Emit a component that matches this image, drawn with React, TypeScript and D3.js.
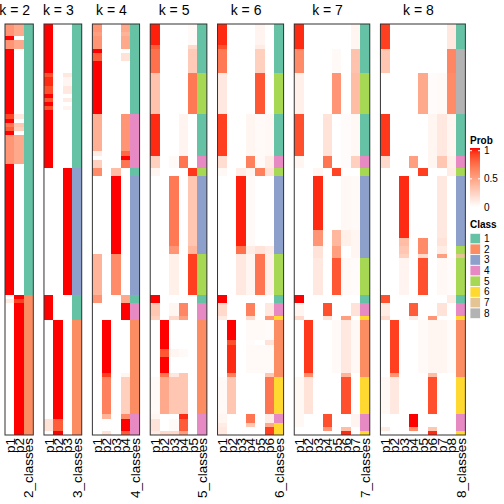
import React from "react";
import * as d3 from "d3";

// ---------- data ----------
const N_SAMPLES = 100;
const kValues = [2, 3, 4, 5, 6, 7, 8];
const classColors = ["#66C2A5", "#FC8D62", "#8DA0CB", "#E78AC3", "#A6D854", "#FFD92F", "#E5C494", "#B3B3B3"];
const classLabels = ["1", "2", "3", "4", "5", "6", "7", "8"];
const probTicks = [0, 0.5, 1];
const probTickLabels = ["0", "0.5", "1"];

// each segment: [number of samples, class, p1, p2, ...]
const k2Segments = [
  [3, 1, 0.55, 0.45], [1, 1, 1, 0], [2, 1, 0.55, 0.45], [16, 1, 1, 0], [1, 1, 0.88, 0.12],
  [1, 1, 1, 0], [1, 1, 0.7, 0.3], [1, 1, 0.8, 0.25], [1, 1, 1, 0], [7, 1, 0.55, 0.45],
  [32, 1, 1, 0], [1, 2, 0, 1], [1, 2, 0.1, 0.9], [32, 2, 0, 1],
];
const k3Segments = [
  [12, 1, 1, 0, 0], [1, 1, 0.85, 0, 0.12], [2, 1, 0.95, 0, 0.05], [2, 1, 0.85, 0, 0.12],
  [1, 1, 1, 0, 0], [1, 1, 0.85, 0, 0.1], [1, 1, 1, 0, 0], [1, 1, 0.85, 0, 0.06], [14, 1, 1, 0, 0],
  [31, 3, 0, 0, 1], [6, 1, 1, 0, 0], [24, 2, 0, 1, 0], [3, 2, 0.15, 0.8, 0], [1, 2, 0, 1, 0],
];
const k4Segments = [
  [2, 1, 0.55, 0, 0, 0.45], [1, 1, 0.5, 0, 0, 0.4], [3, 1, 0.55, 0, 0, 0.45], [1, 1, 1, 0, 0, 0],
  [2, 1, 0.8, 0, 0, 0.15], [13, 1, 1, 0, 0, 0], [9, 4, 0.42, 0, 0, 0.55], [1, 4, 0.1, 0, 0, 0.75],
  [1, 4, 0, 0, 0, 1], [2, 4, 0.25, 0, 0, 0.7], [2, 1, 0.6, 0, 0.35, 0], [19, 3, 0, 0, 1, 0],
  [10, 3, 0.4, 0, 0.6, 0], [2, 1, 0.55, 0, 0, 0.45], [4, 4, 0, 0, 0, 1], [13, 2, 0, 1, 0, 0],
  [1, 2, 0, 0.9, 0, 0.05], [9, 2, 0, 0.65, 0, 0.25], [1, 4, 0, 0.4, 0, 0.6], [3, 4, 0, 0, 0, 1],
  [1, 4, 0, 0.15, 0, 0.8],
];
const k5Segments = [
  [5, 1, 0.97, 0, 0, 0, 0.03], [1, 1, 0.8, 0, 0, 0, 0.2], [6, 1, 0.72, 0, 0, 0, 0.28],
  [10, 5, 0.32, 0, 0, 0, 0.68], [10, 1, 0.95, 0, 0, 0.06, 0], [3, 4, 0.25, 0, 0.03, 0.7, 0],
  [2, 5, 0.05, 0, 0, 0, 0.92], [17, 3, 0, 0, 0.68, 0, 0.3], [2, 3, 0, 0, 0.55, 0, 0.38],
  [10, 5, 0, 0, 0.08, 0, 0.9], [2, 1, 1, 0, 0, 0, 0], [3, 4, 0.3, 0, 0.05, 0.62, 0],
  [1, 4, 0.25, 0, 0.2, 0.5, 0], [7, 2, 0, 1, 0, 0, 0], [2, 2, 0, 0.82, 0.05, 0.03, 0],
  [4, 2, 0, 1, 0, 0, 0], [1, 2, 0, 0.7, 0.12, 0.3, 0], [9, 2, 0.03, 0.45, 0.3, 0.3, 0],
  [1, 4, 0.05, 0, 0, 0.95, 0], [3, 4, 0.15, 0, 0.03, 0.8, 0], [1, 4, 0.1, 0.2, 0.2, 0.5, 0],
];
const k6Segments = [
  [5, 1, 0.95, 0, 0, 0, 0.06, 0], [1, 1, 0.85, 0, 0, 0, 0.1, 0], [6, 1, 0.68, 0, 0, 0, 0.25, 0],
  [10, 5, 0.12, 0, 0, 0, 0.82, 0], [10, 1, 0.9, 0, 0, 0.05, 0.03, 0.04], [3, 4, 0.18, 0, 0, 0.65, 0.03, 0.1],
  [2, 5, 0.04, 0, 0.1, 0.05, 0.65, 0.15], [17, 3, 0, 0, 0.97, 0.03, 0, 0], [2, 3, 0, 0, 0.72, 0.1, 0.15, 0.1],
  [10, 5, 0, 0, 0.12, 0.05, 0.7, 0.08], [2, 1, 1, 0, 0, 0, 0, 0], [3, 4, 0.2, 0, 0, 0.65, 0, 0.12],
  [1, 6, 0.1, 0, 0, 0.2, 0, 0.55], [5, 2, 0, 1, 0, 0.03, 0.03, 0.02], [1, 2, 0, 0.85, 0, 0.02, 0, 0.15],
  [7, 2, 0, 0.95, 0, 0.03, 0.03, 0.03], [1, 2, 0, 0.65, 0, 0, 0, 0.3], [9, 6, 0.03, 0.3, 0, 0, 0, 0.7],
  [2, 4, 0.05, 0, 0, 0.7, 0, 0.1], [1, 6, 0.1, 0, 0, 0.3, 0, 0.45], [2, 6, 0.12, 0, 0, 0, 0, 0.9],
];
const k7Segments = [
  [6, 1, 0.95, 0, 0, 0, 0, 0, 0.05], [6, 1, 0.6, 0, 0, 0, 0.03, 0, 0.32], [10, 5, 0.08, 0, 0, 0, 0.55, 0, 0.35],
  [10, 1, 0.85, 0, 0, 0.15, 0, 0.02, 0.04], [3, 4, 0.05, 0, 0, 0.7, 0, 0.02, 0.25], [2, 5, 0, 0, 0.05, 0, 0.88, 0, 0],
  [13, 3, 0, 0, 0.95, 0, 0, 0.04, 0.03], [4, 3, 0, 0, 0.55, 0, 0.38, 0.08, 0.05], [3, 3, 0, 0, 0.15, 0, 0.5, 0, 0.05],
  [9, 5, 0, 0, 0.12, 0, 0.82, 0.03, 0.02], [2, 1, 1, 0, 0, 0, 0, 0, 0], [3, 4, 0.05, 0, 0, 0.85, 0, 0, 0.15],
  [1, 6, 0.2, 0, 0, 0.15, 0, 0.5, 0], [13, 2, 0, 0.92, 0, 0, 0.03, 0.12, 0.04], [1, 2, 0, 0.6, 0, 0, 0, 0.4, 0],
  [9, 6, 0.04, 0.15, 0, 0, 0, 0.85, 0], [3, 4, 0.04, 0, 0, 0.85, 0, 0, 0.06], [1, 4, 0, 0, 0, 0.55, 0, 0.35, 0],
  [1, 6, 0, 0, 0, 0, 0, 0.95, 0],
];
const k8Segments = [
  [6, 1, 0.9, 0, 0, 0, 0, 0, 0, 0.12], [6, 8, 0.3, 0, 0, 0, 0, 0, 0, 0.62], [10, 8, 0, 0, 0, 0, 0.45, 0.02, 0.03, 0.6],
  [10, 1, 0.92, 0, 0, 0, 0, 0.05, 0.12, 0.05], [3, 4, 0.2, 0, 0, 0.5, 0, 0.05, 0.3, 0.08], [2, 5, 0, 0, 0, 0, 0.9, 0, 0, 0.1],
  [15, 3, 0, 0, 0.95, 0, 0, 0, 0.12, 0], [2, 3, 0, 0, 0.35, 0, 0.6, 0, 0.15, 0], [2, 5, 0, 0, 0.3, 0, 0.6, 0, 0.1, 0],
  [1, 7, 0, 0, 0.25, 0, 0.2, 0, 0.5, 0], [9, 5, 0, 0, 0.06, 0, 0.85, 0, 0.04, 0.02], [2, 1, 0.85, 0, 0, 0, 0, 0, 0, 0.1],
  [3, 4, 0.1, 0, 0, 0.8, 0, 0, 0.15, 0], [1, 6, 0.2, 0, 0, 0.1, 0, 0.55, 0, 0], [13, 2, 0, 0.9, 0, 0, 0.03, 0.05, 0.05, 0.02],
  [1, 2, 0, 0.55, 0, 0, 0, 0.35, 0, 0], [9, 6, 0.04, 0.12, 0, 0, 0, 0.85, 0, 0], [3, 4, 0, 0, 0, 1, 0, 0, 0, 0],
  [1, 4, 0.1, 0, 0, 0.6, 0, 0.3, 0, 0], [1, 6, 0, 0, 0, 0, 0, 0.95, 0, 0],
];
const panelSegments = [k2Segments, k3Segments, k4Segments, k5Segments, k6Segments, k7Segments, k8Segments];

// ---------- layout ----------
const W = 504, H = 504;
const TOP = 24, BOTTOM = 435;
const LEFT = 5, COL_W = 9.44, GAP = 10.65;
const FONT = "'Liberation Sans', Arial, Helvetica, sans-serif";

const probColor = d3.scaleLinear<string>().domain([0, 1]).range(["#FFFFFF", "#FF0000"]).interpolate(d3.interpolateLab);
const yRow = d3.scaleLinear().domain([0, N_SAMPLES]).range([TOP, BOTTOM]);

export default function App() {
  let x0 = LEFT;
  const panels = kValues.map((k, i) => {
    const ncol = k + 1;
    const xCol = d3.scaleLinear().domain([0, ncol]).range([x0, x0 + ncol * COL_W]);
    x0 += ncol * COL_W + GAP;
    const segs = panelSegments[i];
    let start = 0;
    const cells: React.ReactElement[] = [];
    segs.forEach((s, si) => {
      const n = s[0], cls = s[1];
      const y = yRow(start), h = yRow(start + n) - yRow(start);
      for (let j = 0; j < k; j++) {
        cells.push(
          <rect key={`c${si}-${j}`} x={xCol(j)} y={y} width={COL_W} height={h} fill={probColor(s[2 + j])} />
        );
      }
      cells.push(
        <rect key={`k${si}`} x={xCol(k)} y={y} width={COL_W} height={h} fill={classColors[cls - 1]} />
      );
      start += n;
    });
    const labels = d3.range(ncol).map((j) => {
      const text = j < k ? `p${j + 1}` : `${k}_classes`;
      const cx = xCol(j) + COL_W / 2;
      return (
        <text key={`l${j}`} transform={`translate(${cx},${BOTTOM + 3}) rotate(-90)`} textAnchor="end" dy="0.36em"
          fontSize={13.5} fontFamily={FONT} fill="#000">{text}</text>
      );
    });
    const left = xCol(0), right = xCol(ncol);
    return (
      <g key={k}>
        <g shapeRendering="crispEdges">{cells}</g>
        <rect x={left} y={TOP} width={right - left} height={BOTTOM - TOP} fill="none" stroke="#333" strokeWidth={1} />
        <text x={(left + right) / 2 - 4.5} y={15} textAnchor="middle" fontSize={14} fontFamily={FONT}>{`k = ${k}`}</text>
        {labels}
      </g>
    );
  });

  // legend
  const LX = 470;
  const barTop = 148, barBottom = 207;
  const yProb = d3.scaleLinear().domain([0, 1]).range([207, 150.7]);
  const gradStops = d3.range(0, 1.0001, 0.05);
  const BOX_Y = 233.3, BOX_H = 10.67;

  return (
    <svg width={W} height={H} style={{ position: "absolute", left: 0, top: 0, background: "#fff" }}>
      <rect x={0} y={0} width={W} height={H} fill="#fff" />
      <defs>
        <linearGradient id="probGrad" x1="0" y1="1" x2="0" y2="0">
          {gradStops.map((t) => (
            <stop key={t} offset={`${t * 100}%`} stopColor={probColor(t)} />
          ))}
        </linearGradient>
      </defs>
      {panels}
      <g fontFamily={FONT}>
        <text x={LX} y={144} fontSize={10} fontWeight="bold">Prob</text>
        <rect x={LX} y={barTop} width={10} height={barBottom - barTop} fill="url(#probGrad)" />
        {probTicks.map((t, i) => (
          <g key={t}>
            {t > 0 && <line x1={LX} x2={LX + 2} y1={yProb(t)} y2={yProb(t)} stroke="#fff" strokeWidth={1} />}
            {t > 0 && <line x1={LX + 8} x2={LX + 10} y1={yProb(t)} y2={yProb(t)} stroke="#fff" strokeWidth={1} />}
            <text x={LX + 14} y={yProb(t)} dy="0.35em" fontSize={10}>{probTickLabels[i]}</text>
          </g>
        ))}
        <text x={LX} y={228} fontSize={10} fontWeight="bold">Class</text>
        {classLabels.map((c, i) => (
          <g key={c}>
            <rect x={LX} y={BOX_Y + i * BOX_H} width={10.5} height={BOX_H} fill={classColors[i]} stroke="#fff" strokeWidth={0.8} />
            <text x={LX + 14} y={BOX_Y + i * BOX_H + BOX_H / 2} dy="0.35em" fontSize={10}>{c}</text>
          </g>
        ))}
      </g>
    </svg>
  );
}
